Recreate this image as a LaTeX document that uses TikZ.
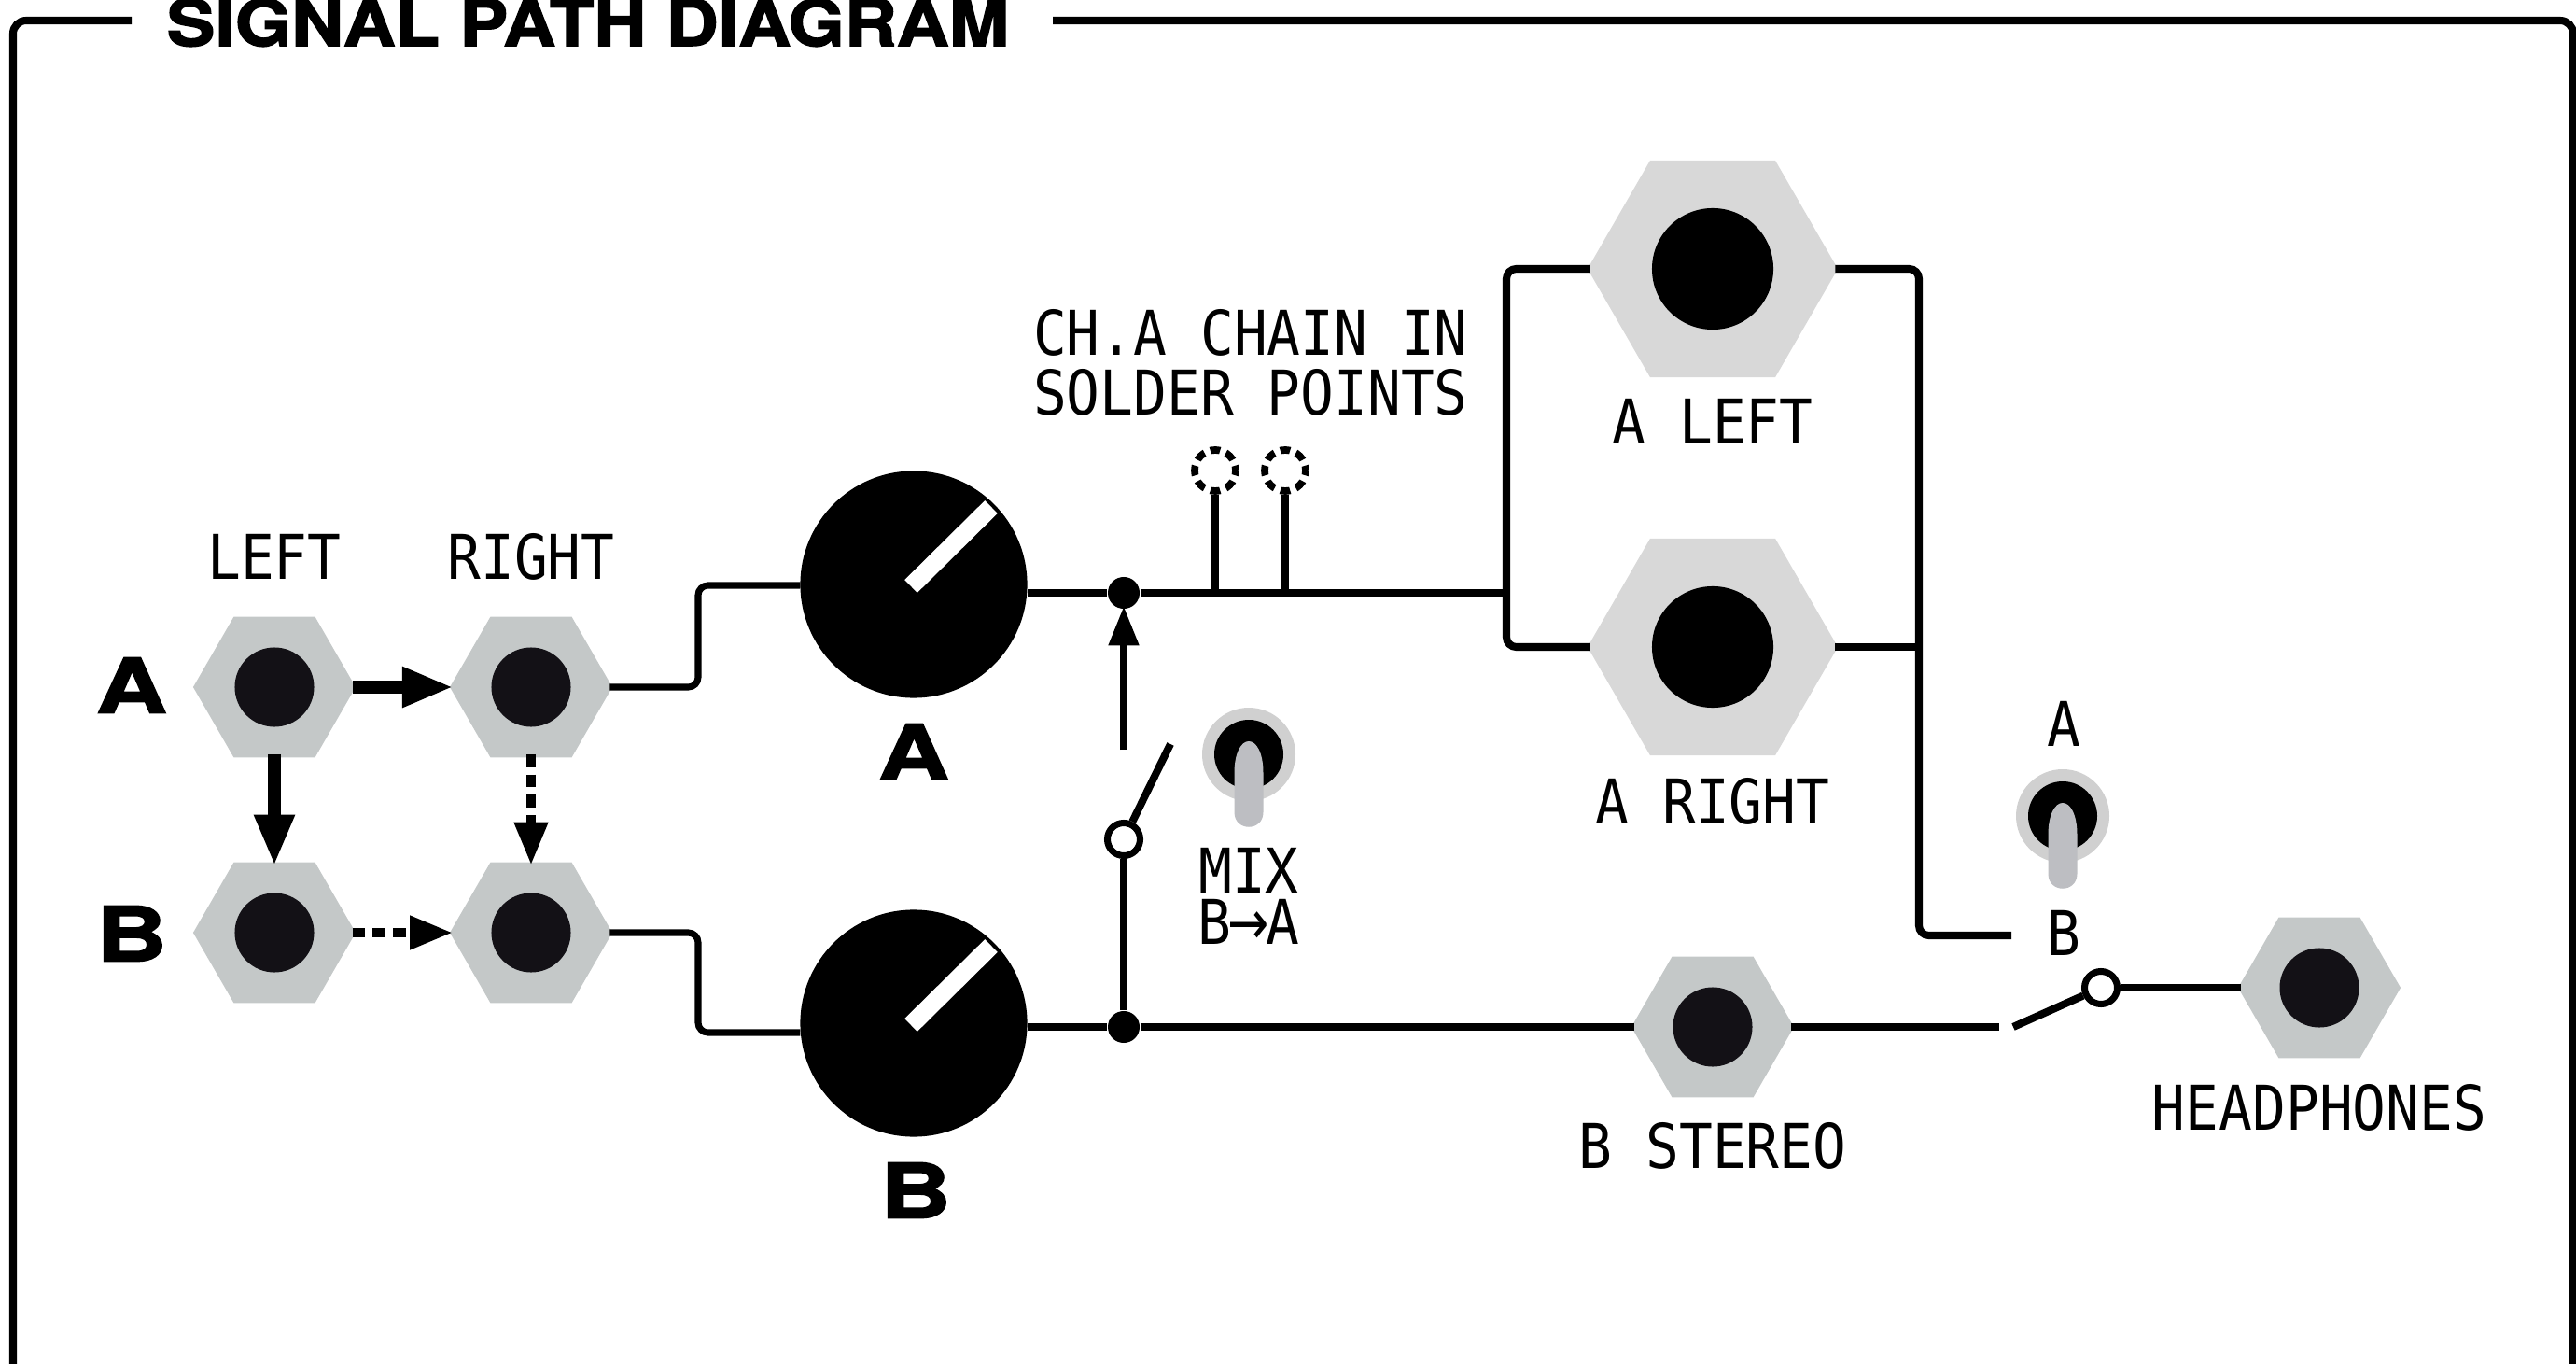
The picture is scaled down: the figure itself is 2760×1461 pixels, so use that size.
\documentclass[tikz,border=0pt]{standalone}
\usepackage{fontspec}
\usepackage{tikz}
\usetikzlibrary{shapes.geometric, arrows.meta, positioning}
\newfontfamily\labelfont[FakeStretch=0.9]{DejaVu Sans Mono}
\newfontfamily\arrowfont[FakeStretch=0.8]{DejaVu Sans}
\newfontfamily\titlefont[FakeStretch=1.13,FakeBold=2.2]{TeX Gyre Heros}
\newfontfamily\rowfont[FakeStretch=1.3,FakeBold=2.2]{TeX Gyre Heros}
\definecolor{nutgrey}{HTML}{C4C8C8}
\definecolor{nutlight}{HTML}{D8D8D8}
\definecolor{holeblack}{HTML}{131116}
\definecolor{rimgrey}{HTML}{D0D0D0}
\definecolor{levergrey}{HTML}{BDBEC2}
\tikzset{
  jack/.style={regular polygon, regular polygon sides=6, fill=nutgrey, minimum size=1.74cm, inner sep=0pt, outer sep=0pt},
  bigjack/.style={jack, fill=nutlight, minimum size=2.68cm},
  hole/.style={circle, fill=holeblack, minimum size=0.85cm, inner sep=0pt},
  bighole/.style={circle, fill=black, minimum size=1.3cm, inner sep=0pt},
  knob/.style={circle, fill=black, minimum size=2.43cm, inner sep=0pt, outer sep=0pt},
  pointer/.style={draw=white, line width=5.5pt},
  dot/.style={circle, fill=black, minimum size=0.34cm, inner sep=0pt},
  swpoint/.style={circle, draw=black, fill=white, line width=2pt, minimum size=0.35cm, inner sep=0pt},
  solderpt/.style={circle, draw=black, line width=2.2pt, dash pattern=on 3pt off 1.91pt, dash phase=1.5pt, minimum size=0.44cm, inner sep=0pt},
  wire/.style={draw=black, line width=2pt, rounded corners=3pt},
  bus/.style={wire, line width=2.3pt},
  fromjack/.style={shorten <=-0.8pt},
  intojack/.style={shorten >=-0.8pt},
  normarrow/.style={draw=black, line width=3.7pt, shorten <=-1pt, shorten >=-1pt, -{Triangle[length=15.5pt,width=11.5pt]}},
  dasharrow/.style={draw=black, line width=3.1pt, shorten <=-1pt, shorten >=-1pt, dash pattern=on 3.9pt off 2.3pt, -{Triangle[length=13.2pt,width=9.6pt]}},
  mixarrow/.style={draw=black, line width=2.3pt, shorten >=-1pt, -{Triangle[length=12pt,width=8.8pt]}},
  lab/.style={font=\fontsize{18.8}{18.2}\selectfont\labelfont, inner sep=0pt, align=center},
  biglab/.style={font=\fontsize{23}{23}\selectfont\rowfont\bfseries, inner sep=0pt},
  toggle/.pic={
    \fill[rimgrey] (0,0) circle (50);
    \fill[black] (0,0) circle (37);
    \fill[levergrey] (-15.5,62) -- (-15.5,20) .. controls (-15.5,-2) and (-8,-14) .. (0,-14) .. controls (8,-14) and (15.5,-2) .. (15.5,20) -- (15.5,62) .. controls (15.5,83) and (-15.5,83) .. (-15.5,62) -- cycle;
  }
}
\begin{document}
\begin{tikzpicture}[x=0.01cm, y=-0.01cm]
\useasboundingbox (0,0) rectangle (2760,1461);
\draw [line width=2.3pt, rounded corners=4pt] (141,22) -- (14,22) -- (14,1461);
\draw [line width=2.3pt, rounded corners=4pt] (1128,22) -- (2757,22) -- (2757,1461);
\node [font=\fontsize{19.5}{19.5}\selectfont\titlefont\bfseries, anchor=base, inner sep=0pt] (title) at (630,49) {SIGNAL PATH DIAGRAM};

\foreach \name/\px/\py in {jackAL/294/736, jackAR/569/736, jackBL/294/999, jackBR/569/999, jackST/1835/1100, jackHP/2485/1058} {
  \node [jack] (\name) at (\px,\py) {};
  \node [hole] (hole\name) at (\name) {};
}
\foreach \name/\py in {jackOL/288, jackOR/693} {
  \node [bigjack] (\name) at (1835,\py) {};
  \node [bighole] (hole\name) at (\name) {};
}

\node [knob] (knobA) at (979,626) {};
\node [knob] (knobB) at (979,1096) {};
\draw [pointer] (976,628) -- (1062,543);
\draw [pointer] (976,1098) -- (1062,1013);

\node [dot] (jctA) at (1204,635) {};
\node [dot] (jctB) at (1204,1100) {};
\node [swpoint] (swA) at (1204,899) {};
\node [swpoint] (swB) at (2251,1058) {};
\node [solderpt] (solderA) at (1302,504) {};
\node [solderpt] (solderB) at (1377,504) {};
\pic at (1338,808) {toggle};
\pic at (2210,874) {toggle};

\coordinate (bendAup) at (748,627);
\coordinate (bendBdn) at (748,1106);
\coordinate (busAin) at (1614,635);
\coordinate (busLbot) at (1614,693);
\coordinate (busRbot) at (2056,1002);
\coordinate (throwB) at (2155,1002);
\coordinate (stopST) at (2142,1100);
\coordinate (armA) at (1254,797);
\coordinate (armB) at (2157,1100);
\coordinate (sendA) at (1204,803);

\draw [normarrow] (jackAL.east) -- (jackAR.west);
\draw [normarrow] (jackAL.south) -- (jackBL.north);
\draw [dasharrow] (jackAR.south) -- (jackBR.north);
\draw [dasharrow] (jackBL.east) -- (jackBR.west);

\draw [wire, fromjack] (jackAR.east) -| (bendAup) -- (knobA.west |- bendAup);
\draw [wire, fromjack] (jackBR.east) -| (bendBdn) -- (knobB.west |- bendBdn);
\draw [wire] (knobA.east |- jctA) -- (jctA);
\draw [wire] (knobB.east |- jctB) -- (jctB);
\draw [wire] (jctA) -- (busAin);
\draw [wire, intojack] (jctB) -- (jackST.west);
\draw [wire] (solderA) -- (solderA |- jctA);
\draw [wire] (solderB) -- (solderB |- jctA);
\draw [bus, fromjack, intojack] (jackOL.west) -| (busLbot) -- (jackOR.west);
\draw [bus, fromjack] (jackOL.east) -| (busRbot) -- (throwB);
\draw [wire, fromjack] (jackOR.east) -- (jackOR.east -| busRbot);
\draw [mixarrow] (sendA) -- (jctA);
\draw [wire] (swA) -- (jctB);
\draw [bus] (swA) -- (armA);
\draw [bus, fromjack] (jackST.east) -- (stopST);
\draw [bus] (armB) -- (swB);
\draw [wire, intojack] (swB) -- (jackHP.west);

\node [lab] (lblchain) at (1340,388) {CH.A CHAIN IN\\SOLDER POINTS};
\node [lab] (lblleft) at (294,596) {LEFT};
\node [lab] (lblright) at (569,596) {RIGHT};
\node [lab] (lblol) at (1835,451) {A LEFT};
\node [lab] (lblor) at (1835,858) {A RIGHT};
\node [lab] (lblst) at (1835,1227) {B STEREO};
\node [lab] (lblhp) at (2485,1186) {HEADPHONES};
\node [lab] (lbltogA) at (2211,775) {A};
\node [lab] (lbltogB) at (2211,999) {B};
\node [lab, font=\fontsize{18.8}{15.6}\selectfont\labelfont] (lblmix) at (1338,960) {MIX\\B{\arrowfont\kern-1pt→\kern-1pt}A};
\node [biglab] (lblrowA) at (141,734) {A};
\node [biglab] (lblrowB) at (141,1000) {B};
\node [biglab] (lblknobA) at (979,805) {A};
\node [biglab] (lblknobB) at (981,1275) {B};
\end{tikzpicture}
\end{document}
